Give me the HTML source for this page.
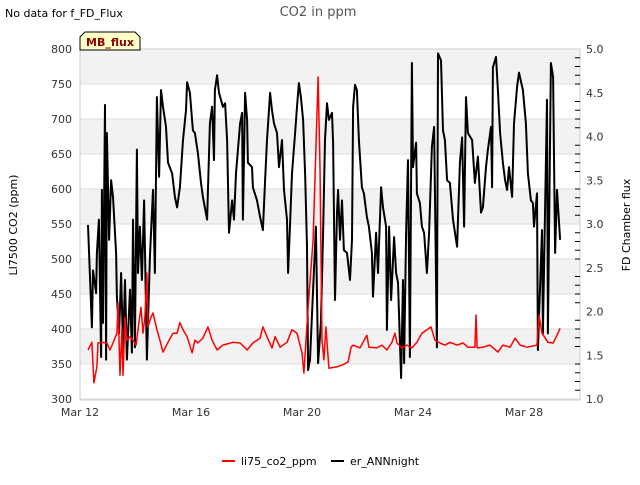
<!DOCTYPE html>
<html><head><meta charset="utf-8"><style>
body{margin:0;background:#fff;font-family:"Liberation Sans","DejaVu Sans",sans-serif;}
svg text{font-family:"DejaVu Sans","Liberation Sans",sans-serif;}
</style></head><body>
<svg id="chart" width="640" height="480" viewBox="0 0 640 480" xmlns="http://www.w3.org/2000/svg">
<rect x="0" y="0" width="640" height="480" fill="#fff"/>
<g id="bands"></g>
<g id="grid"></g>
<rect x="80" y="49" width="500" height="351" fill="none" stroke="#ccc" stroke-width="1"/>
<g id="axes"></g>
<g id="series"></g>
<text x="318" y="16" text-anchor="middle" font-size="13" fill="#555">CO2 in ppm</text>
<text x="5" y="17" font-size="11" fill="#000">No data for f_FD_Flux</text>
<g>
<path d="M80,50 L80,37 L85,32 L135,32 L140,37 L140,50 Z" fill="#ffffc8" stroke="#000" stroke-width="1"/>
<text x="110" y="46" text-anchor="middle" font-size="11" font-weight="bold" fill="#8b0000">MB_flux</text>
</g>
<text transform="translate(17,225) rotate(-90)" text-anchor="middle" font-size="11" fill="#000">LI7500 CO2 (ppm)</text>
<text transform="translate(630,225) rotate(-90)" text-anchor="middle" font-size="11" fill="#000">FD Chamber flux</text>
<g>
<g><line x1="222" y1="461" x2="235" y2="461" stroke="#f00" stroke-width="2"/><text x="241" y="465" font-size="11">li75_co2_ppm</text></g>
<g><line x1="331" y1="461" x2="344" y2="461" stroke="#000" stroke-width="2"/><text x="350" y="465" font-size="11">er_ANNnight</text></g>
</g>
</svg>
<script>
const leftTicks=[300,350,400,450,500,550,600,650,700,750,800];
const rightTicks=[1.0,1.5,2.0,2.5,3.0,3.5,4.0,4.5,5.0];
const xTickDays=[12,16,20,24,28];
const xTickLabels=["Mar 12","Mar 16","Mar 20","Mar 24","Mar 28"];
const redDays=[12.29,12.43,12.50,12.61,12.65,12.79,12.97,13.08,13.19,13.33,13.37,13.44,13.51,13.55,13.62,13.69,13.80,13.91,14.02,14.09,14.20,14.27,14.34,14.41,14.45,14.56,14.63,14.77,14.88,14.99,15.17,15.35,15.50,15.60,15.71,15.86,16.04,16.14,16.25,16.43,16.61,16.76,16.94,17.15,17.51,17.77,18.02,18.23,18.49,18.59,18.74,18.92,19.03,19.21,19.46,19.64,19.82,20.00,20.07,20.22,20.40,20.58,20.65,20.72,20.79,20.86,20.97,21.26,21.48,21.66,21.77,21.84,22.09,22.20,22.34,22.41,22.70,22.88,23.06,23.24,23.35,23.42,23.60,23.78,23.96,24.14,24.32,24.50,24.65,24.79,24.97,25.15,25.33,25.59,25.80,25.98,26.23,26.27,26.31,26.52,26.77,27.06,27.24,27.50,27.68,27.86,28.11,28.47,28.54,28.65,28.86,29.05,29.19,29.30];
const redValues=[370,381,323,346,380,381,380,370,380,394,437,334,399,334,417,384,389,384,377,399,431,394,417,480,403,417,423,399,384,367,381,394,394,409,399,389,366,384,380,387,403,384,370,377,381,380,370,380,387,403,389,373,389,374,381,399,394,366,337,431,527,760,631,384,356,403,344,346,349,353,374,377,373,381,391,374,373,377,370,381,394,380,373,377,373,381,394,399,403,384,380,377,381,377,380,374,374,420,373,374,377,367,377,374,387,377,374,377,420,394,381,380,391,401];
const blackDays=[12.29,12.43,12.47,12.58,12.61,12.68,12.76,12.79,12.83,12.90,12.94,12.97,13.05,13.12,13.19,13.30,13.33,13.41,13.48,13.55,13.62,13.69,13.80,13.87,13.91,13.98,14.05,14.09,14.16,14.23,14.31,14.41,14.52,14.63,14.70,14.77,14.85,14.92,14.99,15.10,15.17,15.32,15.42,15.50,15.60,15.71,15.82,15.86,15.96,16.07,16.14,16.25,16.36,16.43,16.58,16.68,16.76,16.83,16.86,16.94,17.01,17.15,17.23,17.30,17.37,17.48,17.55,17.62,17.77,17.84,17.87,17.95,18.02,18.05,18.20,18.23,18.38,18.49,18.59,18.67,18.74,18.85,18.92,18.99,19.10,19.17,19.28,19.35,19.46,19.50,19.57,19.64,19.75,19.82,19.89,19.96,20.04,20.11,20.18,20.22,20.29,20.40,20.50,20.58,20.68,20.76,20.83,20.90,20.97,21.08,21.12,21.19,21.26,21.30,21.37,21.44,21.51,21.62,21.73,21.80,21.84,21.91,21.98,22.05,22.16,22.23,22.34,22.41,22.52,22.56,22.67,22.74,22.85,22.92,23.03,23.06,23.14,23.21,23.28,23.32,23.39,23.46,23.57,23.64,23.68,23.75,23.82,23.89,23.96,24.00,24.11,24.14,24.25,24.32,24.40,24.50,24.58,24.68,24.76,24.86,24.90,25.01,25.08,25.15,25.23,25.33,25.44,25.59,25.69,25.77,25.84,25.91,25.98,26.13,26.23,26.34,26.45,26.52,26.63,26.70,26.81,26.85,26.88,26.99,27.06,27.14,27.24,27.32,27.39,27.46,27.57,27.64,27.75,27.82,27.96,28.07,28.14,28.25,28.32,28.36,28.47,28.50,28.65,28.68,28.83,28.86,28.97,29.05,29.12,29.19,29.30];
const blackValues=[2.99,1.82,2.47,2.21,2.67,3.05,1.48,3.39,1.87,4.36,1.45,4.04,2.82,3.50,3.31,2.67,2.17,1.75,2.44,1.59,2.36,1.45,2.25,1.53,3.05,1.59,3.85,2.44,2.97,2.36,3.27,1.45,2.62,3.39,2.44,4.45,3.54,4.53,4.34,4.11,3.70,3.58,3.31,3.19,3.42,3.96,4.30,4.62,4.50,4.07,4.04,3.81,3.47,3.31,3.05,4.15,4.34,3.73,4.53,4.70,4.50,4.34,4.38,3.96,2.90,3.27,3.05,3.58,4.15,4.27,3.05,4.50,4.19,3.70,3.65,3.42,3.27,3.08,2.93,3.50,3.96,4.50,4.30,4.15,4.04,3.65,3.96,3.39,3.05,2.44,3.01,3.58,4.04,4.34,4.61,4.45,4.19,3.58,2.74,1.33,1.45,2.25,2.97,1.41,1.87,2.90,3.96,4.38,4.19,4.27,3.93,2.13,3.13,3.39,2.82,3.27,2.70,2.67,2.36,2.82,4.34,4.59,4.53,3.96,3.42,3.35,3.08,2.97,2.67,2.17,2.90,2.44,3.42,3.19,2.97,1.79,2.97,2.13,2.59,2.85,2.44,2.33,1.24,2.36,1.41,2.90,3.73,1.48,4.84,3.65,3.93,3.35,3.24,2.97,2.90,2.44,2.90,3.88,4.11,1.59,4.95,4.87,4.07,3.96,3.50,3.47,3.05,2.74,3.70,3.99,2.97,4.45,4.04,3.96,3.47,3.77,3.13,3.19,3.65,3.85,4.11,3.42,4.79,4.91,4.53,4.04,3.70,3.50,3.39,3.65,3.31,4.15,4.57,4.73,4.53,4.15,3.58,3.27,3.24,2.97,3.35,1.56,2.93,1.75,4.42,1.75,4.84,4.68,2.67,3.39,2.82];

const NS="http://www.w3.org/2000/svg";
const X0=80,PXPERDAY=27.75;
function xScale(d){return X0+(d-12)*PXPERDAY;}
function yLeft(v){return 399-(v-300)*0.7;}
function yRight(v){return 399-(v-1)*87.5;}
function mk(tag,attrs,parent){const e=document.createElementNS(NS,tag);for(const k in attrs)e.setAttribute(k,attrs[k]);parent.appendChild(e);return e;}
const bands=document.getElementById('bands'),grid=document.getElementById('grid'),axes=document.getElementById('axes'),series=document.getElementById('series');
for(let i=0;i<leftTicks.length-1;i++){
  if(i%2===1){
    const r=mk('rect',{x:80,y:yLeft(leftTicks[i+1]),width:500,height:yLeft(leftTicks[i])-yLeft(leftTicks[i+1]),fill:'#f2f2f2'},bands);
    
    
  }
}
leftTicks.forEach(v=>{
  const l=mk('line',{x1:80,x2:580,y1:yLeft(v),y2:yLeft(v),stroke:'#ddd','stroke-width':1},grid);
  
  
  const t=mk('text',{x:72,y:yLeft(v)+4,'text-anchor':'end','font-size':11,fill:'#333'},axes);
  
  
  t.textContent=v;
});
rightTicks.forEach(v=>{
  const t=mk('text',{x:586,y:yRight(v)+4,'font-size':11,fill:'#333'},axes);
  
  
  t.textContent=v.toFixed(1);
});
for(let k=1;k<40;k++){
  const v=1+k*0.1;
  if(k%5===0)continue;
  const l=mk('line',{x1:575,x2:580,y1:yRight(v),y2:yRight(v),stroke:'#000','stroke-width':1},axes);
  
  
}
xTickDays.forEach((d,i)=>{
  const t=mk('text',{x:xScale(d),y:416,'text-anchor':'middle','font-size':11,fill:'#333'},axes);
  
  
  t.textContent=xTickLabels[i];
});
const bp=blackDays.map((d,i)=>xScale(d).toFixed(1)+','+yRight(blackValues[i]).toFixed(1)).join(' ');
const bl=mk('polyline',{points:bp,fill:'none',stroke:'#000','stroke-width':2,'stroke-linejoin':'round'},series);


const rp=redDays.map((d,i)=>xScale(d).toFixed(1)+','+yLeft(redValues[i]).toFixed(1)).join(' ');
const rl=mk('polyline',{points:rp,fill:'none',stroke:'#f00','stroke-width':1.5,'stroke-linejoin':'round'},series);


</script>
</body></html>
